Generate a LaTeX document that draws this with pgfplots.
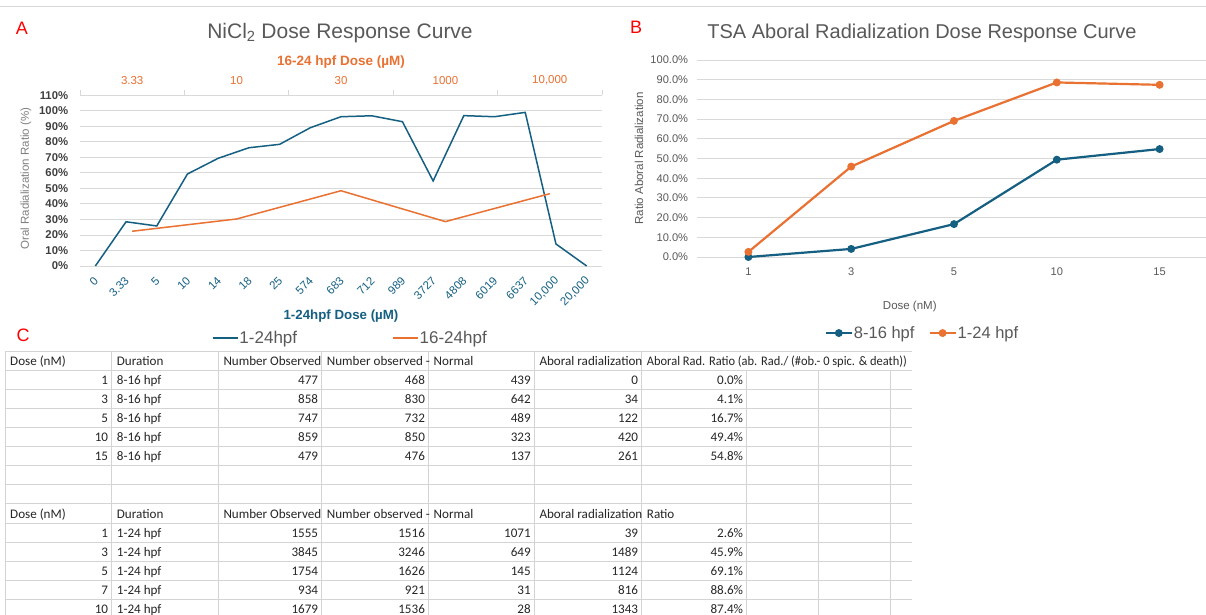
\documentclass[border=0pt]{standalone}
\usepackage{fontspec}
\setmainfont{Liberation Sans}
\newfontfamily\tablefont{Carlito}
\usepackage{graphicx}
\usepackage{pgfplots}
\pgfplotsset{compat=1.18}
\definecolor{xblue}{HTML}{156082}
\definecolor{xorange}{HTML}{E97132}
\definecolor{xgrid}{HTML}{D9D9D9}
\definecolor{xtext}{HTML}{595959}
\definecolor{xdark}{HTML}{404040}
\definecolor{xlab}{HTML}{808080}
\definecolor{cellline}{HTML}{D4D4D4}
\newcommand\fs[1]{\fontsize{#1}{#1}\selectfont}
\pgfplotsset{/pgf/number format/assume math mode=true, every axis title shift=0pt}
\newcommand\tL[3]{\node[anchor=base west,inner sep=0pt,font=\tablefont\fs{13.1},text=black!85] at ({#1pt+5pt},{-(365.3pt+19.1pt*#2)}) {#3};}
\newcommand\tR[3]{\node[anchor=base east,inner sep=0pt,font=\tablefont\fs{13.1},text=black!85] at ({#1pt-3.4pt},{-(365.3pt+19.1pt*#2)}) {#3};}
\newcommand\trow[8]{%
  \tR{111.7}{#1}{#2}\tL{111.7}{#1}{#3}\tR{321.7}{#1}{#4}\tR{428.5}{#1}{#5}%
  \tR{534.3}{#1}{#6}\tR{641.7}{#1}{#7}\tR{746.7}{#1}{#8}}
\begin{document}
\begin{tikzpicture}
\path[use as bounding box] (0,0) rectangle (1206pt,-615pt);
\clip (0,0) rectangle (1206pt,-615pt);
\fill[white] (0,0) rectangle (1206pt,-615pt);
\draw[xgrid, line width=0.8pt] (0,-6pt) -- (1206pt,-6pt);

% ---------------- Chart A ----------------
\begin{axis}[
  at={(80pt,-266pt)}, anchor=south west,
  scale only axis, width=522pt, height=170.7pt,
  xmin=-0.5, xmax=16.5, ymin=0, ymax=110,
  axis line style={draw=none}, tick style={draw=none},
  ytick={0,10,...,110},
  yticklabel={\pgfmathprintnumber{\tick}\%},
  yticklabel style={font=\fs{11.3}\bfseries, text=xdark, anchor=east, inner sep=0pt, xshift=-11.7pt},
  ymajorgrids, major grid style={xgrid, line width=0.9pt},
  xtick={0,...,16},
  xticklabels={0,3.33,5,10,14,18,25,574,683,712,989,3727,4808,6019,6637,{10,000},{20,000}},
  xticklabel style={font=\fs{11.5}, text=xblue, yshift=-13pt, xshift=1pt, rotate=45, anchor=east, inner sep=0pt},
  xlabel={1-24hpf Dose (µM)},
  xlabel style={at={([yshift=-50.5pt]axis description cs:0.5,0)}, anchor=center, font=\fs{13.3}\bfseries, text=xblue},
  ylabel={Oral Radialization Ratio (\%)},
  ylabel style={at={([xshift=-54pt,yshift=2pt]axis description cs:0,0.5)}, anchor=center, font=\fs{11.5}, text=xlab},
  title={NiCl\textsubscript{2} Dose Response Curve},
  title style={at={([xshift=-1pt,yshift=62.3pt]axis description cs:0.5,1)}, anchor=center, font=\fs{21}, text=xtext},
]
\addplot[xblue, line width=1.5pt] coordinates {
 (0,0) (1,28.5) (2,25.8) (3,59.3) (4,69.4) (5,76.2) (6,78.4) (7,89.1) (8,96.2)
 (9,96.8) (10,93.0) (11,54.8) (12,96.9) (13,96.2) (14,99.0) (15,14.2) (16,0)};
\end{axis}
\begin{axis}[
  at={(80pt,-266pt)}, anchor=south west,
  scale only axis, width=522pt, height=170.7pt,
  xmin=-0.5, xmax=4.5, ymin=0, ymax=110,
  axis x line*=top, axis y line=none,
  x axis line style={xgrid, line width=0.9pt, -},
  xtick={0,...,4}, xticklabels={3.33,10,30,1000,{10,000}},
  major tick length=0pt,
  minor xtick={-0.5,0.5,...,4.5}, minor tick length=5pt, tick align=outside,
  minor tick style={xgrid, line width=0.9pt},
  xticklabel style={font=\fs{11.5}, text=xorange, anchor=center, inner sep=0pt, yshift=15pt},
  xlabel={16-24 hpf Dose (µM)},
  xlabel style={at={([yshift=33.6pt]axis description cs:0.5,1)}, anchor=center, font=\fs{13.5}\bfseries, text=xorange},
  legend columns=2,
  legend cell align=left,
  legend image code/.code={\draw[#1] (0pt,0pt) -- (25pt,0pt);},
  legend style={draw=none, fill=none, at={(axis description cs:0.517,-0.422)}, anchor=center,
    font=\fs{17}, text=xtext, nodes={inner sep=1pt},
    /tikz/every even column/.append style={column sep=94pt}},
]
\addlegendimage{xblue, line width=1.5pt}
\addlegendentry{1-24hpf}
\addplot[xorange, line width=1.5pt] coordinates {(0,22.4) (1,30.3) (2,48.5) (3,28.6) (4,46.6)};
\addlegendentry{16-24hpf}
\end{axis}

% ---------------- Chart B ----------------
\begin{axis}[
  at={(697pt,-257pt)}, anchor=south west,
  scale only axis, width=514pt, height=197pt,
  xmin=-0.5, xmax=4.5, ymin=0, ymax=100,
  axis line style={draw=none}, tick style={draw=none},
  ytick={0,10,...,100},
  yticklabel={\pgfmathprintnumber[fixed,fixed zerofill,precision=1]{\tick}\%},
  yticklabel style={font=\fs{11.1}, text=xtext, anchor=east, inner sep=0pt, xshift=-8.7pt},
  ymajorgrids, major grid style={xgrid, line width=0.9pt},
  xtick={0,...,4}, xticklabels={1,3,5,10,15},
  xticklabel style={font=\fs{11.1}, text=xtext, anchor=center, inner sep=0pt, yshift=-14.7pt},
  xlabel={Dose (nM)},
  xlabel style={at={([yshift=-50pt]axis description cs:0.414,0)}, anchor=center, font=\fs{11.5}, text=xtext},
  ylabel={Ratio Aboral Radialization},
  ylabel style={at={([xshift=-58pt]axis description cs:0,0.5)}, anchor=center, font=\fs{11.5}, text=xtext},
  title={TSA Aboral Radialization Dose Response Curve},
  title style={at={([yshift=27pt]axis description cs:0.4377,1)}, anchor=center, font=\fs{20}, text=xtext},
  legend columns=2,
  legend cell align=left,
  legend image code/.code={\draw[mark repeat=2,mark phase=2,#1] plot coordinates {(0pt,0pt) (13pt,0pt) (26pt,0pt)};},
  legend style={draw=none, fill=none, at={(axis description cs:0.4377,-0.386)}, anchor=center,
    font=\fs{16.5}, text=xtext, nodes={inner sep=1pt},
    /tikz/every even column/.append style={column sep=13pt}},
]
\addplot[xblue, line width=2.2pt, mark=*, mark size=2.8pt] coordinates {(0,0) (1,4.1) (2,16.7) (3,49.4) (4,54.8)};
\addlegendentry{8-16 hpf}
\addplot[xorange, line width=2.2pt, mark=*, mark size=2.8pt] coordinates {(0,2.6) (1,45.9) (2,69.1) (3,88.6) (4,87.4)};
\addlegendentry{1-24 hpf}
\end{axis}

% panel letters
\node[text=red, font=\fs{18}] at (22pt,-28pt) {A};
\node[text=red, font=\fs{18}] at (636pt,-27pt) {B};
\node[text=red, font=\fs{18}] at (23pt,-335pt) {C};

% ---------------- Table C ----------------
\begin{scope}
\clip (0,-345pt) rectangle (912pt,-615pt);
\foreach \k in {0,...,14} {\draw[cellline, line width=0.8pt] (5pt,{-(351pt+19.1pt*\k)}) -- (912pt,{-(351pt+19.1pt*\k)});}
\foreach \c in {5,111.7,218.3,321.7,428.5,534.3,641.7} {\draw[cellline, line width=0.8pt] (\c pt,-351pt) -- (\c pt,-615pt);}
\foreach \c in {746.7,818.3,890} {\draw[cellline, line width=0.8pt] (\c pt,-370.1pt) -- (\c pt,-615pt);}
% header rows
\foreach \r in {0,8} {
  \tL{5}{\r}{Dose (nM)}
  \tL{111.7}{\r}{Duration}
  \tL{218.3}{\r}{Number Observed}
  \tL{321.7}{\r}{Number observed -}
  \tL{428.5}{\r}{Normal}
  \begin{scope}
    \clip (534.3pt,{-(351pt+19.1pt*\r)}) rectangle (641.2pt,{-(370.1pt+19.1pt*\r)});
    \tL{534.3}{\r}{Aboral radialization}
  \end{scope}
}
\tL{641.7}{0}{\scalebox{0.95}[1]{Aboral Rad. Ratio (ab. Rad./ (\#ob.- 0 spic. \& death))}}
\tL{641.7}{8}{Ratio}
% data rows
\trow{1}{1}{8-16 hpf}{477}{468}{439}{0}{0.0\%}
\trow{2}{3}{8-16 hpf}{858}{830}{642}{34}{4.1\%}
\trow{3}{5}{8-16 hpf}{747}{732}{489}{122}{16.7\%}
\trow{4}{10}{8-16 hpf}{859}{850}{323}{420}{49.4\%}
\trow{5}{15}{8-16 hpf}{479}{476}{137}{261}{54.8\%}
\trow{9}{1}{1-24 hpf}{1555}{1516}{1071}{39}{2.6\%}
\trow{10}{3}{1-24 hpf}{3845}{3246}{649}{1489}{45.9\%}
\trow{11}{5}{1-24 hpf}{1754}{1626}{145}{1124}{69.1\%}
\trow{12}{7}{1-24 hpf}{934}{921}{31}{816}{88.6\%}
\trow{13}{10}{1-24 hpf}{1679}{1536}{28}{1343}{87.4\%}
\end{scope}
\end{tikzpicture}
\end{document}
